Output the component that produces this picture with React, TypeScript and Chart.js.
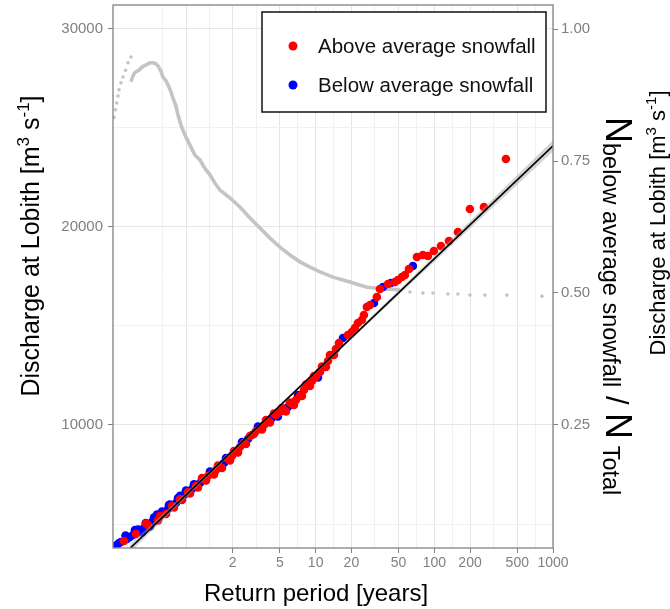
import React, { useEffect, useRef } from 'react';
import { Chart, registerables } from 'chart.js';

Chart.register(...registerables);

const FONT = '"Liberation Sans", Arial, Helvetica, sans-serif';

// ---- Data: maxima (return period in years, discharge m3/s) ----
const aboveT = [0.2426, 0.3063, 0.3718, 0.3865, 0.4692, 0.4878, 0.548, 0.6158, 0.64, 0.7189, 0.7475, 0.8394, 0.8729, 0.9805, 1.0197, 1.1017, 1.1451, 1.1906, 1.2375, 1.3907, 1.4453, 1.5027, 1.5622, 1.6243, 1.8242, 1.8965, 1.9714, 2.0496, 2.2148, 2.3024, 2.4882, 2.587, 2.7955, 2.9057, 3.0213, 3.1405, 3.5286, 3.6678, 3.813, 3.9639, 4.1203, 4.4531, 4.6293, 5.0031, 5.2005, 5.4065, 5.6193, 6.0727, 6.3134, 6.5629, 6.8232, 7.3725, 7.6652, 7.9678, 8.2843, 8.9507, 9.3053, 9.6746, 10.057, 10.867, 11.299, 12.209, 12.693, 13.195, 13.717, 14.261, 14.824, 15.71, 18.7, 20.2, 21.4, 22.7, 24.5, 25.5, 27.0, 28.7, 32.8, 34.8, 40.7, 46.6, 49.3, 53.3, 56.5, 61.1, 71.3, 80.1, 88.3, 99.2, 113.6, 132.7, 158.0, 199.4, 261.7, 401];
const aboveQ = [4142, 4496, 5026, 4950, 5177, 5404, 5505, 5909, 5834, 6263, 6212, 6616, 6541, 6919, 6844, 7323, 7273, 7197, 7424, 7501, 7727, 7955, 7879, 7829, 8283, 8207, 8434, 8687, 8611, 8889, 9091, 9040, 9444, 9495, 9545, 9697, 9773, 10000, 10252, 10202, 10126, 10581, 10505, 10656, 10858, 10757, 10682, 11136, 11061, 11010, 11263, 11465, 11464, 11767, 12045, 11969, 12222, 12474, 12423, 12676, 12954, 12929, 13232, 13535, 13535, 13535, 13838, 14141, 14545, 14697, 14899, 15151, 15303, 15555, 15959, 16060, 16464, 16868, 17121, 17222, 17323, 17474, 17575, 17878, 18484, 18585, 18535, 18787, 19040, 19292, 19747, 20908, 21009, 23433];

const belowT = [0.196, 0.2038, 0.2118, 0.2202, 0.2289, 0.25, 0.2571, 0.2725, 0.2888, 0.30, 0.3183, 0.331, 0.344, 0.3577, 0.37, 0.4017, 0.4177, 0.4342, 0.4514, 0.46, 0.507, 0.5273, 0.5698, 0.58, 0.5922, 0.6653, 0.6917, 0.72, 0.7771, 0.8077, 0.9071, 0.9433, 1.0596, 1.2866, 1.3374, 1.6878, 1.7549, 2.1305, 2.3937, 2.6891, 3.265, 3.3937, 4.2842, 4.8118, 5.8432, 7.0919, 8.6107, 10.454, 11.745, 17.0, 31.0, 36.9, 43.1, 66.0];
const belowQ = [3839, 3890, 3940, 4041, 4092, 4420, 4243, 4344, 4445, 4700, 4723, 4647, 4571, 4799, 5050, 4874, 5101, 5329, 5253, 5480, 5632, 5556, 5758, 5960, 5985, 6061, 6313, 6420, 6465, 6692, 6768, 7005, 7071, 7652, 7576, 8081, 8333, 8636, 9141, 9293, 9924, 9849, 10353, 10429, 10909, 11515, 12020, 12399, 12929, 14394, 16161, 16969, 17171, 18030];

// ---- Fitted line and its confidence band ----
const fitT = [0.27, 1000];
const fitQ = [3748, 24096];
const bandT = [0.27, 1, 5, 30, 150, 1000];
const bandUpper = [3948, 7110, 11046, 15512, 19568, 24376];
const bandLower = [3548, 6870, 10906, 15312, 19228, 23816];

// ---- Ratio N_below / N_total (right axis) ----
const ratioStartT = [0.2, 0.2057, 0.2106, 0.216, 0.2202, 0.2289, 0.2379, 0.2498, 0.2622, 0.278];
const ratioStartN = [0.833, 0.847, 0.86, 0.873, 0.885, 0.898, 0.909, 0.922, 0.936, 0.947];
const ratioCurveT = [0.278, 0.2862, 0.2946, 0.3063, 0.3245, 0.344, 0.3718, 0.4017, 0.4258, 0.4514, 0.4692, 0.4973, 0.5169, 0.548, 0.5698, 0.6039, 0.6278, 0.6653, 0.6917, 0.7332, 0.7926, 0.8729, 0.9617, 1.0596, 1.1232, 1.1906, 1.2866, 1.418, 1.562, 1.897, 2.302, 2.795, 3.393, 4.12, 5.002, 6.072, 7.372, 8.949, 10.87, 13.99, 19.45, 27.05, 36.89, 51.3];
const ratioCurveN = [0.9, 0.909, 0.915, 0.919, 0.922, 0.928, 0.932, 0.936, 0.936, 0.934, 0.93, 0.92, 0.909, 0.902, 0.894, 0.881, 0.869, 0.854, 0.837, 0.818, 0.799, 0.78, 0.761, 0.752, 0.742, 0.733, 0.724, 0.708, 0.695, 0.68, 0.663, 0.642, 0.623, 0.604, 0.587, 0.572, 0.559, 0.549, 0.54, 0.53, 0.521, 0.511, 0.508, 0.506];
const ratioTailT = [62.3, 80.1, 97.3, 130.2, 158.0, 199.5, 266.8, 408.8, 806.5];
const ratioTailN = [0.502, 0.5, 0.5, 0.498, 0.498, 0.496, 0.496, 0.496, 0.494];

// ---- Axes ----
const xTickLabels = [2, 5, 10, 20, 50, 100, 200, 500, 1000];
const xExtraMajor = [0.81];
const xMinor = [0.515, 1.27, 3.16, 7.07, 14.1, 31.6, 70.7, 141, 316, 707];
const yTickLabels = [10000, 20000, 30000];
const yMinor = [5000, 15000, 25000];
const y2TickLabels = [0.25, 0.5, 0.75, 1.0];

const legendLabels = ['Above average snowfall', 'Below average snowfall'];
const xTitle = 'Return period [years]';

const near = (arr: number[], v: number) => arr.some((a) => Math.abs(a - v) <= Math.abs(a) * 1e-6 + 1e-9);
const pts = (xs: number[], ys: number[]) => xs.map((x, i) => ({ x, y: ys[i] }));

type Seg = { t: string; size: number; dy?: number };
function drawRich(ctx: CanvasRenderingContext2D, segs: Seg[], x: number, y: number, rot: number, align: 'center' | 'left') {
  ctx.save();
  ctx.translate(x, y);
  ctx.rotate(rot);
  ctx.textBaseline = 'alphabetic';
  ctx.textAlign = 'left';
  ctx.fillStyle = '#000';
  let total = 0;
  const widths = segs.map((s) => {
    ctx.font = `${s.size}px ${FONT}`;
    const w = ctx.measureText(s.t).width;
    total += w;
    return w;
  });
  let cx = align === 'center' ? -total / 2 : 0;
  segs.forEach((s, i) => {
    ctx.font = `${s.size}px ${FONT}`;
    ctx.fillText(s.t, cx, s.dy || 0);
    cx += widths[i];
  });
  ctx.restore();
}

const decorPlugin = {
  id: 'decor',
  afterDatasetsDraw(chart: any) {
    const { ctx, chartArea: a } = chart;
    ctx.save();
    ctx.strokeStyle = '#8a8a8a';
    ctx.lineWidth = 1.4;
    ctx.strokeRect(a.left, a.top, a.right - a.left, a.bottom - a.top);
    ctx.restore();
  },
  afterDraw(chart: any) {
    const ctx: CanvasRenderingContext2D = chart.ctx;
    // legend
    ctx.save();
    ctx.fillStyle = '#ffffff';
    ctx.fillRect(262, 12, 284, 100);
    ctx.strokeStyle = '#111';
    ctx.lineWidth = 1.5;
    ctx.strokeRect(262, 12, 284, 100);
    const cols = ['#ff0000', '#0000ff'];
    const ys = [46, 85];
    ctx.font = `20.5px ${FONT}`;
    ctx.textBaseline = 'middle';
    ctx.textAlign = 'left';
    legendLabels.forEach((lab, i) => {
      ctx.fillStyle = cols[i];
      ctx.beginPath();
      ctx.arc(293, ys[i], 4.5, 0, Math.PI * 2);
      ctx.fill();
      ctx.fillStyle = '#111';
      ctx.fillText(lab, 318, ys[i] + 1);
    });
    ctx.restore();

    // axis titles
    drawRich(ctx, [{ t: xTitle, size: 24 }], 316, 601, 0, 'center');
    drawRich(
      ctx,
      [
        { t: 'Discharge at Lobith [m', size: 25 },
        { t: '3', size: 17, dy: -10 },
        { t: ' s', size: 25 },
        { t: '-1', size: 17, dy: -10 },
        { t: ']', size: 25 },
      ],
      39,
      246,
      -Math.PI / 2,
      'center'
    );
    drawRich(
      ctx,
      [
        { t: 'Discharge at Lobith [m', size: 22 },
        { t: '3', size: 15, dy: -9 },
        { t: ' s', size: 22 },
        { t: '-1', size: 15, dy: -9 },
        { t: ']', size: 22 },
      ],
      665,
      223,
      -Math.PI / 2,
      'center'
    );
    drawRich(
      ctx,
      [
        { t: 'N', size: 36 },
        { t: 'below average snowfall', size: 23.5, dy: 3 },
        { t: ' / ', size: 31 },
        { t: 'N', size: 36 },
        { t: ' Total', size: 23.5, dy: 3 },
      ],
      606,
      117,
      Math.PI / 2,
      'left'
    );
  },
};

export default function App() {
  const ref = useRef<HTMLCanvasElement | null>(null);

  useEffect(() => {
    if (!ref.current) return;
    const grey = '#808080';
    const chart = new Chart(ref.current, {
      type: 'scatter',
      data: {
        datasets: [
          {
            label: 'fit',
            type: 'line',
            data: pts(fitT, fitQ),
            borderColor: '#000',
            borderWidth: 1.6,
            pointRadius: 0,
            order: 0,
            yAxisID: 'y',
          } as any,
          {
            label: legendLabels[0],
            data: pts(aboveT, aboveQ),
            backgroundColor: '#ff0000',
            borderColor: '#ff0000',
            borderWidth: 0,
            pointRadius: 4.3,
            order: 2,
            yAxisID: 'y',
          },
          {
            label: 'band lower',
            type: 'line',
            data: pts(bandT, bandLower),
            borderWidth: 0,
            borderColor: 'rgba(0,0,0,0)',
            pointRadius: 0,
            fill: false,
            order: 1,
            yAxisID: 'y',
          } as any,
          {
            label: 'band upper',
            type: 'line',
            data: pts(bandT, bandUpper),
            borderWidth: 0,
            borderColor: 'rgba(0,0,0,0)',
            backgroundColor: 'rgba(160,160,160,0.45)',
            pointRadius: 0,
            fill: '-1',
            order: 1,
            yAxisID: 'y',
          } as any,
          {
            label: legendLabels[1],
            data: pts(belowT, belowQ),
            backgroundColor: '#0000ff',
            borderColor: '#0000ff',
            borderWidth: 0,
            pointRadius: 4.3,
            order: 3,
            yAxisID: 'y',
          },
          {
            label: 'ratio curve',
            type: 'line',
            data: pts(ratioCurveT, ratioCurveN),
            borderColor: '#c4c4c4',
            borderWidth: 3.6,
            pointRadius: 0,
            order: 5,
            yAxisID: 'y2',
          } as any,
          {
            label: 'ratio start',
            data: pts(ratioStartT, ratioStartN),
            backgroundColor: '#c4c4c4',
            borderWidth: 0,
            pointRadius: 1.8,
            order: 5,
            yAxisID: 'y2',
          },
          {
            label: 'ratio tail',
            data: pts(ratioTailT, ratioTailN),
            backgroundColor: '#c4c4c4',
            borderWidth: 0,
            pointRadius: 1.8,
            order: 5,
            yAxisID: 'y2',
          },
        ],
      },
      options: {
        animation: false,
        responsive: true,
        maintainAspectRatio: false,
        devicePixelRatio: 1,
        layout: { padding: { top: 5, left: 0, right: 0, bottom: 0 } },
        plugins: {
          legend: { display: false },
          tooltip: { enabled: false },
        },
        scales: {
          x: {
            type: 'logarithmic',
            min: 0.196,
            max: 1000,
            afterBuildTicks: (s: any) => {
              s.ticks = [...xMinor, ...xExtraMajor, ...xTickLabels].sort((a, b) => a - b).map((v) => ({ value: v }));
            },
            afterFit: (s: any) => {
              s.height = 61;
              s.paddingLeft = 0;
              s.paddingRight = 0;
            },
            border: { display: false },
            grid: {
              color: (c: any) => (near(xMinor, c.tick.value) ? '#f1f1f1' : '#e6e6e6'),
              lineWidth: 1,
              tickLength: 5,
              tickColor: (c: any) => (near(xTickLabels, c.tick.value) ? grey : 'rgba(0,0,0,0)'),
            },
            ticks: {
              autoSkip: false,
              maxRotation: 0,
              padding: 2,
              color: grey,
              font: { family: FONT, size: 14 },
              callback: (v: any) => (near(xTickLabels, Number(v)) ? String(v) : ''),
            },
          },
          y: {
            type: 'linear',
            position: 'left',
            min: 3788,
            max: 31210,
            afterBuildTicks: (s: any) => {
              s.ticks = [...yMinor, ...yTickLabels].sort((a, b) => a - b).map((v) => ({ value: v }));
            },
            afterFit: (s: any) => {
              s.width = 113;
              s.paddingTop = 0;
              s.paddingBottom = 0;
            },
            border: { display: false },
            grid: {
              color: (c: any) => (near(yMinor, c.tick.value) ? '#f1f1f1' : '#e6e6e6'),
              lineWidth: 1,
              tickLength: 5,
              tickColor: (c: any) => (near(yTickLabels, c.tick.value) ? grey : 'rgba(0,0,0,0)'),
            },
            ticks: {
              padding: 5,
              color: grey,
              font: { family: FONT, size: 15 },
              callback: (v: any) => (near(yTickLabels, Number(v)) ? String(v) : ''),
            },
          },
          y2: {
            type: 'linear',
            position: 'right',
            min: 0.017,
            max: 1.0455,
            afterBuildTicks: (s: any) => {
              s.ticks = y2TickLabels.map((v) => ({ value: v }));
            },
            afterFit: (s: any) => {
              s.width = 117;
              s.paddingTop = 0;
              s.paddingBottom = 0;
            },
            border: { display: false },
            grid: {
              drawOnChartArea: false,
              tickLength: 5,
              tickColor: grey,
            },
            ticks: {
              padding: 3,
              color: grey,
              font: { family: FONT, size: 15 },
              callback: (v: any) => Number(v).toFixed(2),
            },
          },
        },
      } as any,
      plugins: [decorPlugin],
    });
    return () => chart.destroy();
  }, []);

  return (
    <div style={{ position: 'fixed', left: 0, top: 0, width: 670, height: 609, background: '#fff' }}>
      <canvas ref={ref} />
    </div>
  );
}
